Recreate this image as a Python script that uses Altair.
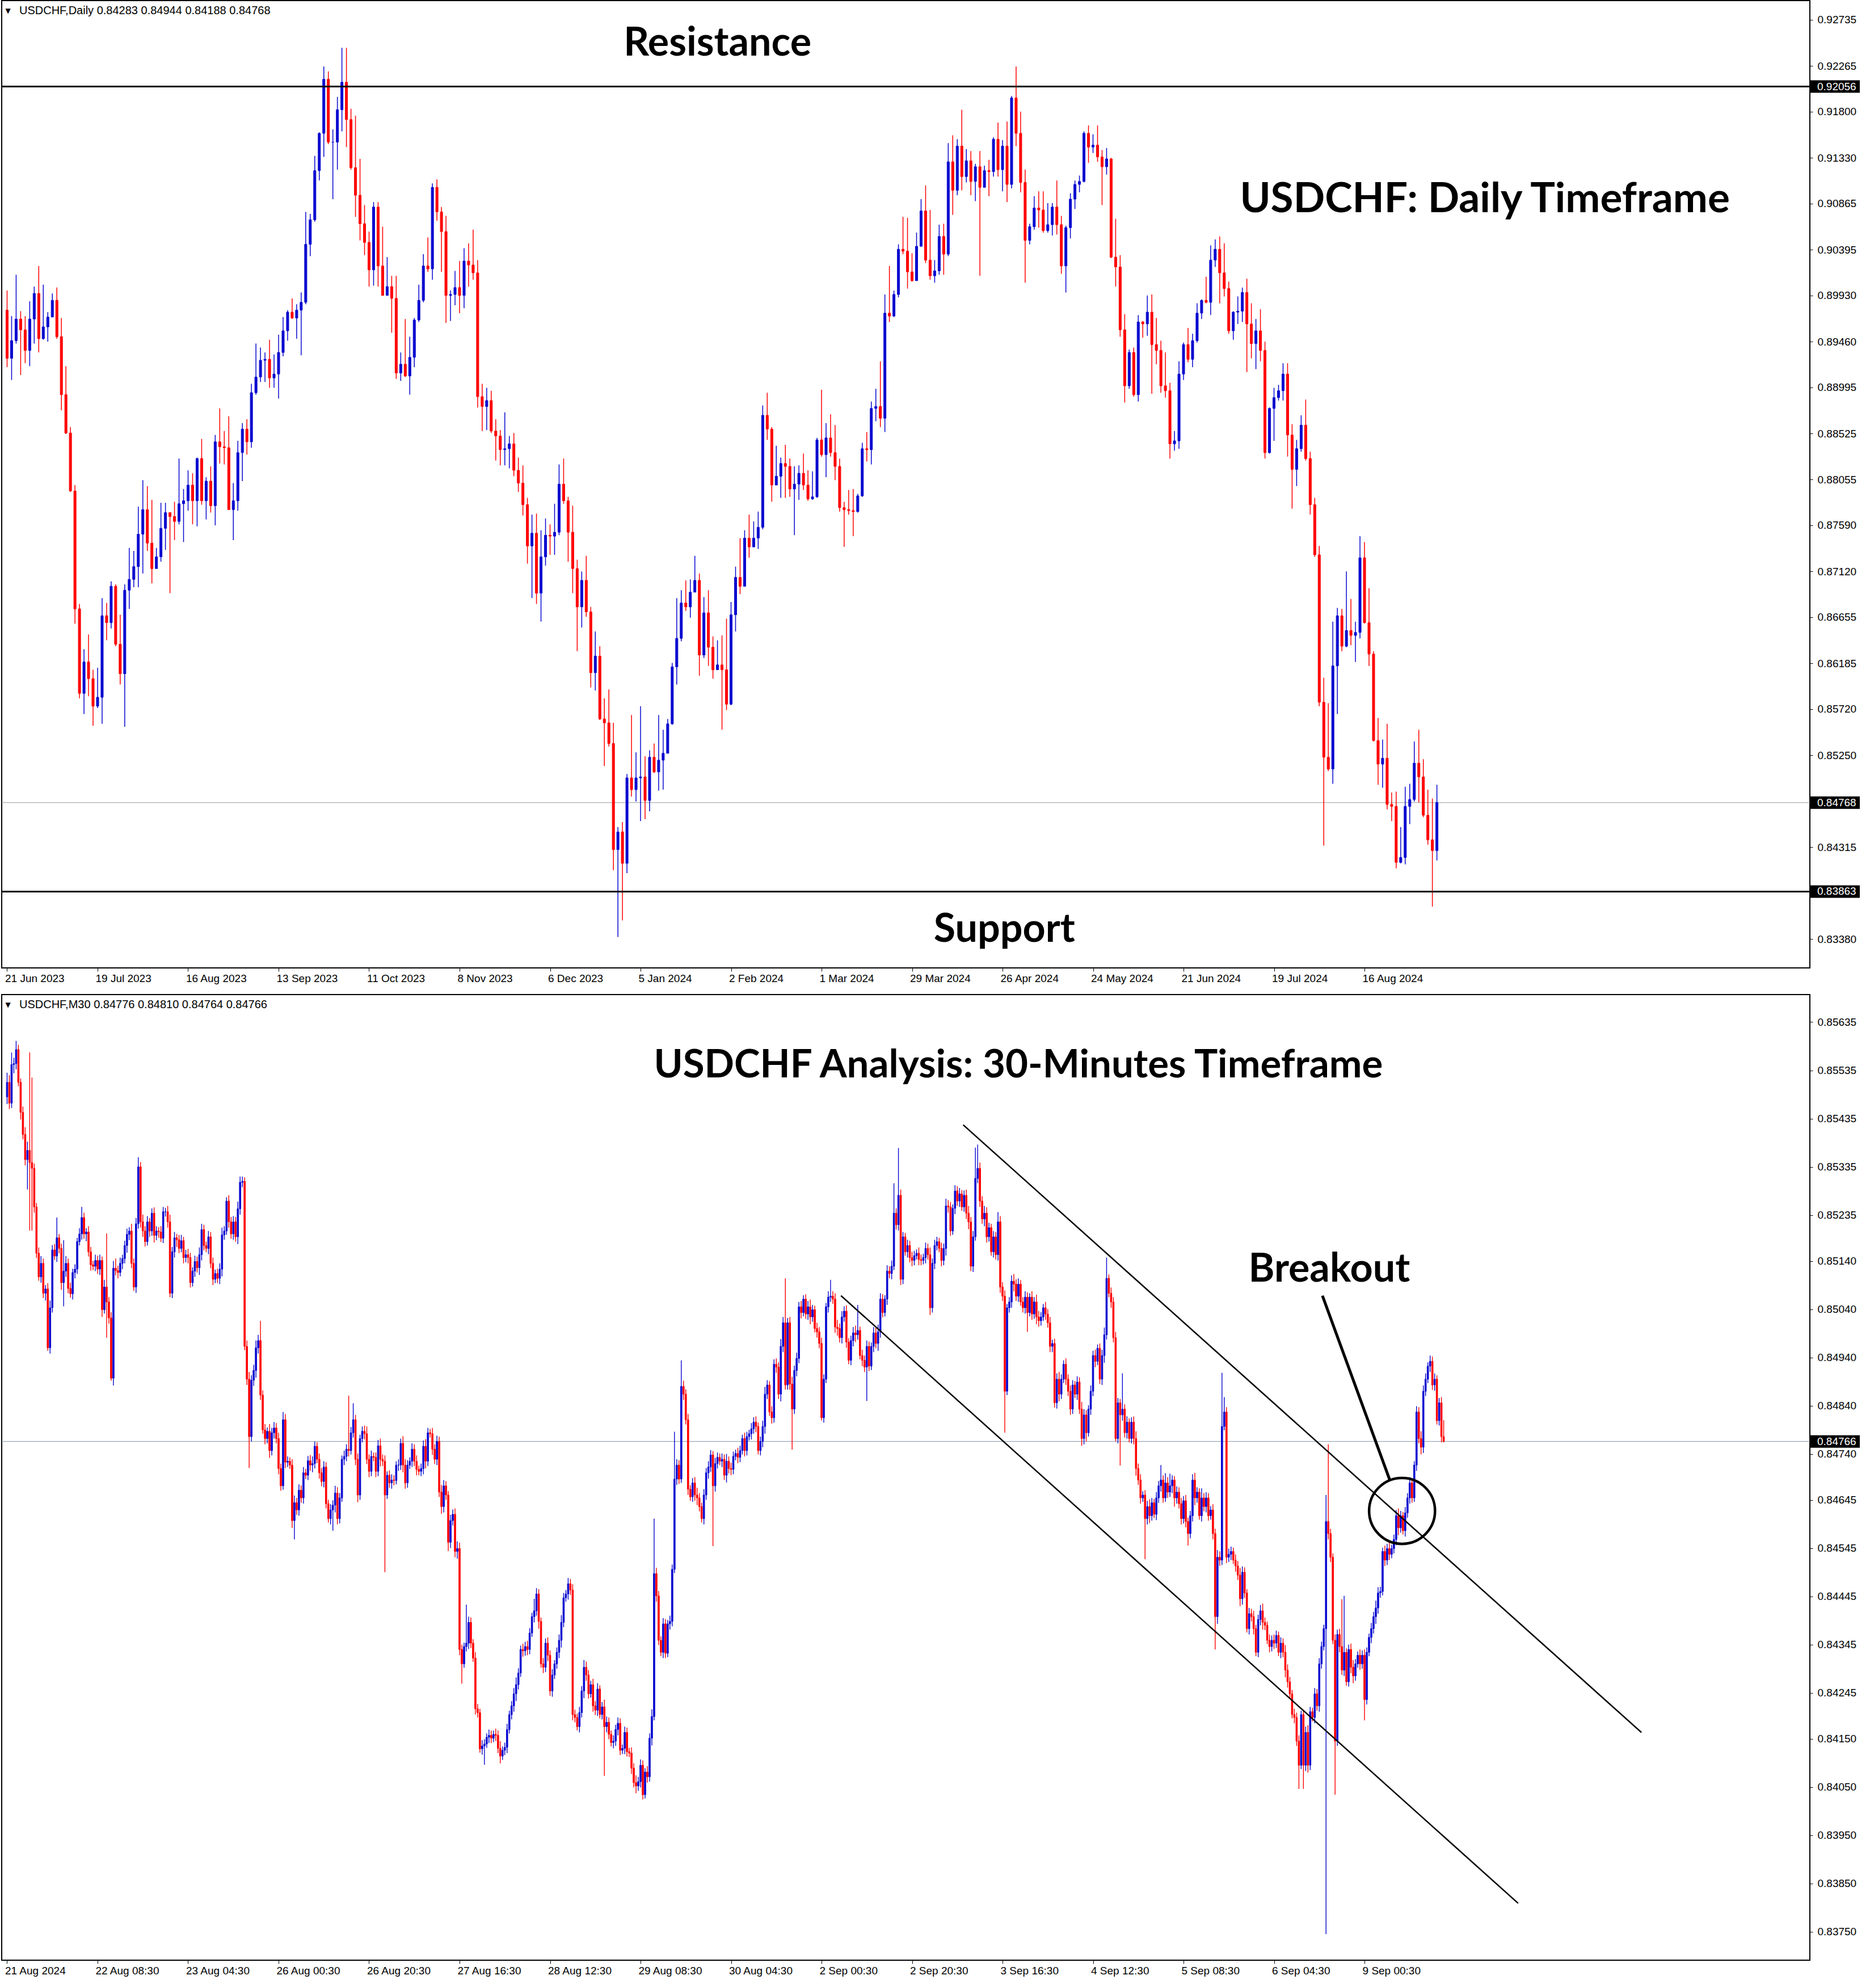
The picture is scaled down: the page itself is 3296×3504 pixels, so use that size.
import altair as alt
import pandas as pd

# ---------------- DATA ----------------
daily_labels = ["21 Jun 2023", "19 Jul 2023", "16 Aug 2023", "13 Sep 2023", "11 Oct 2023", "8 Nov 2023",
                "6 Dec 2023", "5 Jan 2024", "2 Feb 2024", "1 Mar 2024", "29 Mar 2024", "26 Apr 2024",
                "24 May 2024", "21 Jun 2024", "19 Jul 2024", "16 Aug 2024"]
daily_first_open = 8978  # price in 1e-4
daily_close = [
    8929, 8947, 8969, 8958, 8937, 8969, 8995, 8949, 8961, 8971,
    8988, 8951, 8892, 8853, 8794, 8674, 8588, 8620, 8603, 8575,
    8584, 8667, 8660, 8697, 8638, 8608, 8693, 8704, 8717, 8750,
    8775, 8741, 8715, 8727, 8756, 8772, 8768, 8763, 8781, 8784,
    8800, 8784, 8827, 8784, 8804, 8779, 8844, 8839, 8838, 8775,
    8784, 8833, 8857, 8844, 8894, 8910, 8927, 8928, 8909, 8913,
    8935, 8957, 8976, 8970, 8978, 8986, 9045, 9070, 9120, 9158,
    9213, 9149, 9149, 9182, 9210, 9172, 9123, 9095, 9066, 9047,
    9019, 9083, 9023, 8993, 9002, 8990, 8914, 8923, 8911, 8930,
    8968, 8988, 9023, 9020, 9103, 9078, 9058, 8993, 8994, 9001,
    8993, 9028, 9024, 9016, 8890, 8880, 8886, 8855, 8850, 8836,
    8837, 8842, 8815, 8802, 8780, 8738, 8751, 8690, 8727, 8749,
    8748, 8752, 8801, 8784, 8752, 8715, 8676, 8703, 8671, 8609,
    8626, 8562, 8558, 8537, 8429, 8447, 8415, 8502, 8490, 8502,
    8503, 8479, 8523, 8508, 8520, 8527, 8557, 8615, 8644, 8680,
    8676, 8691, 8703, 8627, 8670, 8635, 8612, 8617, 8612, 8577,
    8668, 8706, 8697, 8746, 8737, 8746, 8757, 8871, 8857, 8800,
    8809, 8822, 8819, 8796, 8801, 8812, 8800, 8786, 8788, 8846,
    8831, 8848, 8833, 8819, 8777, 8775, 8774, 8773, 8789, 8837,
    8836, 8878, 8880, 8868, 8975, 8972, 8994, 9040, 9038, 9017,
    9008, 9043, 9079, 9029, 9013, 9018, 9053, 9035, 9129, 9100,
    9145, 9114, 9130, 9109, 9124, 9103, 9120, 9119, 9152, 9121,
    9145, 9106, 9194, 9158, 9108, 9049, 9063, 9082, 9080, 9059,
    9065, 9083, 9065, 9023, 9062, 9091, 9106, 9109, 9158, 9144,
    9146, 9134, 9124, 9132, 9032, 9022, 8958, 8901, 8935, 8892,
    8966, 8964, 8976, 8943, 8937, 8901, 8896, 8842, 8845, 8913,
    8943, 8928, 8947, 8975, 8988, 8986, 9029, 9040, 9016, 9000,
    8957, 8976, 8977, 8996, 8964, 8944, 8957, 8937, 8833, 8878,
    8889, 8896, 8913, 8851, 8816, 8837, 8861, 8827, 8780, 8729,
    8579, 8523, 8511, 8616, 8667, 8636, 8652, 8647, 8650, 8726,
    8660, 8628, 8540, 8516, 8522, 8475, 8473, 8416, 8421, 8473,
    8480, 8517, 8503, 8464, 8439, 8428, 8477]
daily_upper_wick = [
    20, 25, 45, 8, 14, 18, 7, 28, 43, 5,
    7, 13, 19, 29, 6, 6, 5, 13, 28, 9,
    30, 18, 13, 5, 2, 30, 6, 32, 16, 28,
    30, 24, 44, 9, 26, 10, 0, 15, 46, 12,
    15, 12, 1, 20, 4, 15, 7, 34, 16, 32,
    18, 12, 6, 10, 9, 34, 13, 7, 20, 20,
    18, 14, 2, 14, 6, 10, 33, 6, 15, 1,
    13, 8, 13, 13, 35, 35, 11, 53, 37, 19,
    11, 5, 5, 40, 30, 11, 23, 12, 46, 21,
    2, 16, 12, 29, 4, 8, 5, 16, 4, 17,
    27, 13, 18, 36, 13, 13, 13, 10, 12, 6,
    37, 8, 11, 13, 18, 7, 19, 20, 27, 17,
    11, 29, 20, 26, 4, 27, 9, 9, 25, 5,
    25, 10, 21, 34, 21, 5, 10, 4, 64, 26,
    72, 21, 7, 14, 46, 24, 5, 4, 41, 13,
    23, 13, 25, 7, 16, 23, 11, 25, 30, 52,
    13, 11, 40, 8, 24, 17, 16, 10, 23, 2,
    31, 6, 19, 8, 18, 8, 20, 15, 26, 2,
    51, 15, 24, 28, 8, 6, 20, 22, 2, 6,
    17, 7, 18, 46, 19, 48, 4, 5, 33, 34,
    19, 14, 12, 26, 51, 11, 12, 13, 19, 27,
    7, 37, 12, 10, 3, 16, 5, 11, 2, 17,
    6, 25, 2, 32, 22, 13, 3, 12, 17, 19,
    22, 4, 27, 9, 2, 6, 4, 6, 2, 8,
    11, 20, 7, 11, 1, 39, 12, 16, 3, 5,
    7, 1, 17, 18, 27, 10, 34, 8, 10, 13,
    2, 17, 7, 10, 1, 24, 15, 10, 13, 30,
    7, 1, 15, 5, 14, 21, 12, 22, 9, 1,
    10, 6, 11, 11, 11, 9, 10, 26, 7, 7,
    9, 25, 55, 45, 8, 7, 60, 32, 11, 22,
    16, 35, 3, 23, 19, 35, 12, 15, 31, 20,
    16, 22, 34, 18, 26, 42, 18]
daily_lower_wick = [
    9, 22, 3, 46, 13, 16, 25, 14, 1, 15,
    0, 2, 16, 1, 1, 15, 5, 21, 18, 20,
    2, 27, 18, 6, 2, 11, 54, 19, 8, 21,
    40, 8, 15, 0, 5, 22, 78, 19, 3, 39,
    10, 24, 26, 4, 19, 7, 20, 17, 17, 0,
    31, 10, 29, 13, 6, 2, 5, 22, 10, 10,
    25, 4, 10, 1, 21, 46, 2, 12, 2, 10,
    24, 2, 58, 28, 22, 28, 2, 22, 17, 13,
    17, 16, 21, 0, 0, 35, 6, 8, 1, 19,
    10, 2, 2, 3, 11, 9, 41, 28, 26, 11,
    18, 13, 22, 7, 11, 25, 24, 2, 25, 16,
    16, 20, 6, 9, 11, 18, 53, 11, 29, 9,
    19, 19, 3, 3, 30, 25, 45, 21, 5, 15,
    18, 1, 44, 3, 21, 89, 58, 10, 7, 12,
    44, 19, 11, 1, 19, 30, 0, 1, 18, 3,
    4, 11, 0, 21, 3, 19, 9, 0, 61, 6,
    1, 17, 8, 0, 11, 0, 11, 2, 11, 17,
    0, 22, 32, 8, 47, 16, 5, 2, 1, 1,
    2, 23, 4, 14, 4, 38, 4, 25, 1, 1,
    12, 15, 13, 9, 14, 6, 1, 3, 3, 17,
    1, 0, 0, 3, 4, 7, 4, 21, 2, 25,
    5, 14, 6, 14, 20, 90, 0, 25, 5, 7,
    22, 18, 4, 13, 10, 43, 4, 3, 18, 2,
    2, 11, 10, 8, 27, 11, 10, 8, 1, 16,
    6, 5, 39, 8, 1, 20, 7, 17, 3, 2,
    7, 14, 12, 50, 14, 7, 7, 15, 7, 8,
    6, 3, 8, 2, 6, 1, 13, 7, 31, 8,
    3, 9, 12, 11, 49, 15, 26, 11, 6, 1,
    33, 3, 10, 22, 40, 17, 3, 2, 10, 2,
    4, 90, 2, 15, 49, 5, 1, 10, 27, 6,
    1, 12, 1, 21, 24, 5, 15, 6, 1, 7,
    18, 2, 26, 2, 5, 57, 10]
daily_ticks = [0.92735, 0.92265, 0.91800, 0.91330, 0.90865, 0.90395, 0.89930, 0.89460, 0.88995,
               0.88525, 0.88055, 0.87590, 0.87120, 0.86655, 0.86185, 0.85720, 0.85250, 0.84315, 0.83380]
daily_levels = [0.92056, 0.83863]
daily_last = 0.84768

m30_labels = ["21 Aug 2024", "22 Aug 08:30", "23 Aug 04:30", "26 Aug 00:30", "26 Aug 20:30", "27 Aug 16:30",
              "28 Aug 12:30", "29 Aug 08:30", "30 Aug 04:30", "2 Sep 00:30", "2 Sep 20:30", "3 Sep 16:30",
              "4 Sep 12:30", "5 Sep 08:30", "6 Sep 04:30", "9 Sep 00:30"]
m30_first_open = 85480  # price in 1e-5
m30_close = [
    85510, 85467, 85547, 85549, 85578, 85510, 85448, 85402, 85350, 85369,
    85344, 85332, 85252, 85156, 85107, 85135, 85073, 85082, 84960, 85043,
    85163, 85150, 85188, 85166, 85095, 85119, 85135, 85083, 85072, 85116,
    85123, 85180, 85196, 85230, 85196, 85200, 85159, 85132, 85129, 85141,
    85123, 85141, 85039, 85086, 85055, 85022, 84897, 85125, 85120, 85116,
    85135, 85145, 85172, 85195, 85202, 85135, 85086, 85217, 85335, 85221,
    85202, 85180, 85221, 85202, 85239, 85193, 85202, 85200, 85187, 85242,
    85242, 85221, 85073, 85159, 85188, 85184, 85166, 85182, 85147, 85153,
    85147, 85095, 85119, 85139, 85126, 85153, 85205, 85172, 85166, 85190,
    85135, 85102, 85114, 85104, 85123, 85194, 85202, 85264, 85221, 85196,
    85221, 85190, 85248, 85303, 85305, 84963, 84895, 84776, 84893, 84913,
    84960, 84975, 84862, 84790, 84772, 84787, 84747, 84784, 84794, 84772,
    84710, 84674, 84811, 84723, 84725, 84717, 84602, 84639, 84624, 84665,
    84649, 84701, 84696, 84726, 84717, 84720, 84756, 84729, 84701, 84683,
    84713, 84637, 84606, 84624, 84634, 84659, 84606, 84649, 84729, 84735,
    84750, 84747, 84784, 84811, 84729, 84655, 84772, 84787, 84782, 84729,
    84704, 84735, 84733, 84704, 84757, 84729, 84725, 84655, 84696, 84680,
    84686, 84685, 84717, 84717, 84762, 84717, 84680, 84717, 84725, 84750,
    84725, 84708, 84704, 84710, 84756, 84725, 84784, 84782, 84750, 84729,
    84766, 84661, 84631, 84674, 84655, 84557, 84602, 84615, 84538, 84544,
    84335, 84305, 84341, 84348, 84391, 84348, 84317, 84212, 84204, 84129,
    84135, 84139, 84153, 84157, 84151, 84159, 84157, 84130, 84114, 84126,
    84132, 84169, 84200, 84218, 84243, 84262, 84286, 84335, 84332, 84341,
    84335, 84369, 84403, 84415, 84450, 84393, 84305, 84298, 84348, 84323,
    84249, 84282, 84305, 84329, 84354, 84391, 84442, 84450, 84471, 84458,
    84200, 84194, 84175, 84204, 84249, 84298, 84282, 84243, 84262, 84218,
    84209, 84253, 84200, 84216, 84175, 84184, 84159, 84142, 84145, 84169,
    84182, 84126, 84130, 84163, 84123, 84120, 84089, 84059, 84052, 84061,
    84095, 84034, 84081, 84071, 84151, 84196, 84492, 84446, 84354, 84329,
    84388, 84327, 84388, 84393, 84501, 84688, 84717, 84688, 84880, 84864,
    84811, 84667, 84651, 84680, 84655, 84649, 84631, 84606, 84655, 84701,
    84713, 84738, 84674, 84720, 84733, 84725, 84729, 84696, 84725, 84710,
    84708, 84735, 84741, 84733, 84747, 84772, 84747, 84776, 84782, 84792,
    84806, 84797, 84747, 84766, 84797, 84864, 84883, 84827, 84815, 84926,
    84920, 84864, 84963, 85012, 84883, 85012, 84885, 84833, 84913, 84938,
    85045, 85033, 85061, 85030, 85045, 85024, 85039, 85000, 84993, 84969,
    84815, 84895, 85045, 85065, 85067, 85061, 85003, 85000, 84981, 85024,
    85036, 84972, 84934, 84975, 84991, 84987, 84996, 84944, 84934, 84920,
    84963, 84922, 84963, 84991, 84969, 84993, 85061, 85033, 85061, 85119,
    85114, 85129, 85239, 85215, 85276, 85102, 85190, 85159, 85172, 85147,
    85141, 85151, 85156, 85143, 85141, 85147, 85166, 85153, 85043, 85135,
    85172, 85180, 85166, 85141, 85166, 85254, 85252, 85202, 85249, 85285,
    85264, 85279, 85252, 85276, 85239, 85221, 85129, 85190, 85311, 85332,
    85264, 85227, 85239, 85190, 85209, 85159, 85190, 85153, 85221, 85086,
    85067, 84870, 85043, 85055, 85098, 85092, 85067, 85092, 85055, 85043,
    85065, 85033, 85065, 85030, 85055, 85024, 85016, 85024, 85043, 85030,
    85012, 84963, 84969, 84846, 84895, 84864, 84895, 84926, 84895, 84870,
    84833, 84883, 84864, 84889, 84833, 84772, 84821, 84784, 84833, 84870,
    84944, 84932, 84959, 84895, 84944, 84987, 85104, 85073, 85055, 84981,
    84772, 84846, 84821, 84833, 84784, 84806, 84772, 84806, 84772, 84710,
    84686, 84649, 84655, 84606, 84631, 84612, 84639, 84615, 84649, 84674,
    84686, 84649, 84680, 84661, 84674, 84686, 84649, 84661, 84637, 84606,
    84643, 84600, 84575, 84612, 84686, 84649, 84661, 84612, 84649, 84631,
    84649, 84612, 84624, 84575, 84403, 84526, 84520, 84797, 84827, 84526,
    84532, 84538, 84520, 84508, 84489, 84440, 84495, 84452, 84378, 84409,
    84403, 84378, 84329, 84397, 84415, 84391, 84385, 84354, 84341, 84354,
    84348, 84364, 84329, 84348, 84329, 84292, 84268, 84243, 84200, 84194,
    84145, 84095, 84200, 84095, 84163, 84095, 84206, 84194, 84243, 84218,
    84305, 84341, 84378, 84600, 84575, 84526, 84354, 84145, 84366, 84341,
    84292, 84329, 84268, 84335, 84298, 84280, 84305, 84323, 84305, 84323,
    84231, 84329, 84360, 84378, 84403, 84421, 84452, 84455, 84538, 84520,
    84544, 84532, 84544, 84563, 84612, 84587, 84612, 84581, 84618, 84649,
    84680, 84649, 84717, 84827, 84772, 84754, 84870, 84895, 84922, 84932,
    84883, 84895, 84809, 84846, 84776, 84766]
m30_upper_wick = [
    20, 15, 25, 12, 18, 10, 8, 12, 15, 18,
    203, 176, 10, 8, 12, 15, 10, 8, 12, 15,
    10, 12, 42, 8, 10, 64, 15, 10, 12, 8,
    10, 8, 12, 22, 10, 8, 12, 10, 8, 12,
    10, 12, 8, 15, 111, 10, 12, 15, 20, 10,
    12, 8, 10, 12, 8, 15, 10, 12, 20, 10,
    15, 10, 12, 8, 10, 12, 10, 8, 12, 10,
    8, 12, 15, 10, 12, 8, 10, 12, 8, 10,
    12, 10, 8, 12, 10, 15, 12, 10, 8, 12,
    10, 12, 8, 10, 12, 15, 10, 8, 12, 10,
    12, 10, 15, 12, 10, 8, 12, 15, 10, 12,
    15, 12, 41, 10, 12, 8, 15, 10, 12, 10,
    12, 10, 16, 12, 10, 8, 12, 15, 10, 12,
    10, 12, 8, 10, 12, 15, 10, 8, 12, 10,
    12, 10, 8, 12, 10, 15, 12, 10, 8, 12,
    10, 111, 12, 34, 10, 12, 8, 10, 12, 15,
    10, 12, 8, 10, 12, 15, 10, 12, 8, 10,
    12, 10, 8, 12, 10, 15, 12, 10, 8, 12,
    10, 12, 8, 10, 12, 15, 10, 8, 12, 10,
    12, 10, 15, 12, 10, 8, 12, 10, 12, 15,
    12, 10, 8, 80, 12, 10, 8, 12, 10, 8,
    12, 10, 8, 12, 10, 8, 12, 10, 15, 8,
    10, 12, 8, 10, 12, 15, 10, 8, 12, 10,
    12, 10, 8, 25, 12, 10, 8, 12, 10, 12,
    10, 12, 8, 10, 12, 15, 10, 8, 12, 10,
    12, 10, 8, 12, 10, 15, 12, 10, 8, 12,
    10, 12, 8, 10, 15, 12, 10, 8, 12, 10,
    12, 10, 8, 12, 10, 8, 12, 10, 15, 10,
    12, 10, 8, 12, 10, 15, 114, 12, 10, 8,
    12, 10, 8, 12, 10, 98, 12, 10, 54, 12,
    10, 12, 8, 10, 12, 15, 10, 8, 12, 10,
    12, 10, 8, 12, 10, 8, 12, 10, 15, 10,
    12, 10, 8, 12, 10, 8, 12, 10, 8, 12,
    10, 12, 8, 10, 12, 15, 10, 8, 12, 10,
    12, 10, 15, 12, 92, 10, 12, 15, 10, 12,
    10, 12, 8, 10, 12, 15, 10, 8, 12, 10,
    12, 10, 8, 12, 34, 10, 12, 15, 10, 12,
    10, 12, 8, 10, 12, 15, 53, 8, 12, 10,
    12, 10, 8, 12, 10, 15, 12, 10, 8, 12,
    10, 12, 62, 10, 98, 12, 10, 8, 12, 10,
    12, 10, 8, 12, 10, 8, 12, 10, 15, 10,
    12, 10, 8, 12, 10, 15, 12, 10, 8, 12,
    10, 12, 8, 10, 12, 15, 10, 12, 64, 49,
    12, 10, 15, 12, 10, 8, 12, 10, 20, 12,
    10, 12, 8, 10, 12, 15, 10, 12, 8, 10,
    12, 10, 8, 12, 10, 15, 12, 10, 8, 12,
    10, 12, 8, 10, 12, 15, 10, 8, 12, 10,
    12, 10, 8, 12, 10, 15, 12, 10, 8, 12,
    10, 12, 8, 10, 12, 15, 43, 8, 12, 10,
    12, 10, 8, 74, 10, 12, 8, 10, 12, 15,
    10, 12, 8, 10, 12, 15, 10, 8, 12, 10,
    31, 10, 20, 12, 25, 10, 8, 12, 10, 12,
    10, 12, 8, 10, 12, 15, 10, 8, 20, 10,
    12, 10, 8, 12, 10, 15, 12, 111, 31, 10,
    12, 10, 8, 12, 10, 15, 12, 10, 8, 12,
    10, 12, 8, 10, 12, 15, 10, 8, 12, 10,
    12, 10, 8, 12, 10, 15, 12, 10, 8, 12,
    10, 12, 8, 10, 12, 15, 10, 8, 12, 10,
    12, 10, 8, 55, 160, 10, 8, 12, 10, 12,
    98, 117, 8, 10, 12, 15, 10, 8, 12, 10,
    12, 10, 8, 12, 10, 15, 12, 10, 8, 12,
    10, 12, 8, 10, 12, 15, 10, 8, 12, 10,
    12, 10, 8, 12, 10, 15, 12, 12, 8, 12,
    10, 12, 8, 10, 12, 34]
m30_lower_wick = [
    15, 12, 10, 18, 12, 8, 15, 10, 12, 62,
    141, 129, 12, 10, 8, 12, 10, 15, 6, 12,
    10, 8, 12, 10, 15, 49, 12, 10, 8, 12,
    12, 10, 8, 12, 10, 15, 10, 12, 8, 10,
    10, 12, 15, 8, 74, 12, 5, 15, 10, 12,
    8, 12, 10, 15, 12, 10, 8, 12, 10, 12,
    12, 10, 8, 12, 10, 15, 10, 12, 8, 10,
    10, 12, 8, 10, 12, 15, 10, 8, 12, 10,
    12, 10, 8, 12, 10, 15, 12, 10, 8, 12,
    10, 12, 8, 10, 12, 15, 10, 8, 12, 10,
    12, 10, 15, 12, 10, 8, 12, 65, 10, 12,
    15, 12, 10, 8, 12, 10, 15, 10, 12, 10,
    12, 10, 8, 12, 10, 8, 15, 39, 10, 12,
    10, 12, 8, 10, 12, 15, 10, 8, 12, 10,
    12, 10, 8, 12, 43, 15, 12, 10, 8, 12,
    10, 12, 8, 10, 12, 15, 10, 8, 12, 10,
    12, 10, 8, 12, 10, 15, 10, 160, 8, 10,
    12, 10, 8, 12, 10, 15, 12, 10, 8, 12,
    10, 12, 8, 10, 12, 15, 10, 8, 12, 10,
    12, 10, 15, 12, 10, 18, 12, 10, 12, 15,
    12, 41, 8, 10, 12, 10, 8, 12, 10, 8,
    12, 39, 8, 12, 10, 8, 12, 10, 15, 8,
    10, 12, 8, 10, 12, 15, 10, 8, 12, 10,
    12, 10, 8, 12, 10, 15, 8, 12, 10, 12,
    10, 12, 8, 10, 12, 15, 10, 8, 12, 10,
    12, 10, 8, 12, 10, 15, 12, 10, 8, 12,
    10, 12, 8, 10, 102, 12, 10, 8, 12, 10,
    12, 10, 8, 12, 10, 8, 12, 10, 15, 10,
    12, 10, 8, 12, 10, 15, 8, 12, 10, 8,
    12, 10, 8, 12, 10, 8, 12, 10, 8, 12,
    10, 12, 8, 10, 12, 15, 10, 8, 12, 10,
    12, 10, 125, 12, 10, 8, 12, 10, 15, 10,
    12, 10, 8, 12, 10, 8, 12, 10, 8, 12,
    10, 12, 8, 10, 12, 15, 10, 8, 12, 10,
    12, 10, 15, 12, 10, 10, 12, 84, 10, 12,
    10, 12, 8, 10, 12, 15, 10, 8, 12, 10,
    6, 10, 8, 12, 10, 10, 12, 15, 10, 12,
    10, 12, 8, 10, 12, 15, 10, 8, 12, 10,
    70, 10, 8, 12, 10, 15, 12, 10, 8, 12,
    10, 12, 8, 10, 12, 12, 10, 8, 12, 10,
    12, 10, 8, 12, 10, 8, 12, 10, 15, 10,
    12, 10, 8, 12, 10, 15, 12, 10, 8, 12,
    10, 12, 8, 10, 12, 15, 10, 12, 8, 10,
    12, 10, 15, 12, 10, 8, 12, 10, 12, 12,
    10, 86, 8, 10, 12, 15, 10, 12, 8, 10,
    12, 40, 8, 12, 10, 15, 12, 10, 8, 12,
    10, 12, 12, 10, 12, 15, 10, 8, 12, 10,
    12, 10, 8, 12, 10, 15, 12, 18, 8, 12,
    10, 12, 8, 10, 12, 15, 10, 8, 12, 10,
    6, 10, 105, 12, 10, 12, 8, 10, 12, 15,
    10, 12, 8, 84, 12, 15, 10, 8, 12, 10,
    12, 10, 8, 12, 10, 15, 18, 12, 10, 12,
    10, 12, 25, 10, 12, 15, 10, 8, 12, 10,
    12, 10, 8, 12, 68, 15, 12, 10, 8, 12,
    10, 12, 8, 12, 10, 15, 12, 10, 8, 12,
    10, 12, 8, 10, 12, 15, 10, 8, 12, 10,
    12, 10, 8, 12, 10, 15, 12, 10, 8, 12,
    10, 49, 8, 49, 12, 15, 10, 8, 12, 10,
    12, 10, 8, 633, 12, 10, 8, 111, 10, 12,
    10, 12, 8, 10, 12, 15, 10, 8, 12, 10,
    43, 10, 8, 12, 10, 15, 12, 10, 8, 12,
    10, 12, 8, 10, 12, 15, 10, 8, 12, 10,
    12, 10, 8, 12, 10, 15, 12, 10, 8, 12,
    10, 12, 8, 10, 12, 2]
m30_ticks = [0.85635, 0.85535, 0.85435, 0.85335, 0.85235, 0.85140, 0.85040, 0.84940, 0.84840, 0.84740,
             0.84645, 0.84545, 0.84445, 0.84345, 0.84245, 0.84150, 0.84050, 0.83950, 0.83850, 0.83750]
m30_last = 0.84766

# annotation geometry (bar index, price)
upper_channel = [(422.6, 0.85422), (722.4, 0.84163)]
lower_channel = [(368.6, 0.85068), (667.9, 0.83809)]
breakout_pointer = [(581.4, 0.85068), (611.1, 0.84687)]
breakout_circle = (616.6, 0.84622)

# ---------------- BUILD ----------------
BLUE = "#0808D0"
RED = "#FF0000"
AXFONT = "Liberation Sans"
TFONT = "Lato"
cscale = alt.Scale(domain=["up", "down"], range=[BLUE, RED])


def build(first_open, closes, ups, downs, unit):
    opens = [first_open] + closes[:-1]
    rows = []
    for i, (o, c, u, d) in enumerate(zip(opens, closes, ups, downs)):
        rows.append(dict(idx=i, open=o / unit, close=c / unit,
                         high=(max(o, c) + u) / unit, low=(min(o, c) - d) / unit,
                         dir="up" if c >= o else "down"))
    return pd.DataFrame(rows)


def panel(df, xdom, ydom, xlabels, xstep, yticks, w, h, body_w, wick_w, header, levels, last,
          last_color, texts, boxes, extra_layers_fn=None):
    js = "[" + ",".join("'%s'" % s for s in xlabels) + "]"
    xaxis = alt.Axis(values=[i * xstep for i in range(len(xlabels))],
                     labelExpr=f"{js}[round(datum.value/{xstep})]",
                     labelAlign="left", labelBaseline="top", labelPadding=3, tickSize=6,
                     tickColor="black", domain=False, grid=False, labelFont=AXFONT,
                     labelFontSize=19, labelColor="black", labelFlush=False, labelOverlap=False,
                     labelOffset=-4, title=None)
    yaxis = alt.Axis(orient="right", values=yticks, format=".5f", labelAlign="left",
                     labelBaseline="middle", labelPadding=8, tickSize=5, tickColor="black",
                     domain=False, grid=False, labelFont=AXFONT, labelFontSize=19,
                     labelColor="black", labelFlush=False, labelOverlap=False, title=None)
    xs = alt.Scale(domain=xdom, nice=False, zero=False)
    ys = alt.Scale(domain=ydom, nice=False, zero=False)

    def X(f):
        return alt.X(f, type="quantitative", scale=xs, axis=xaxis)

    def Y(f):
        return alt.Y(f, type="quantitative", scale=ys, axis=yaxis)

    wicks = alt.Chart(df).mark_rule(strokeWidth=wick_w).encode(
        x=X("idx"), y=Y("low"), y2="high",
        color=alt.Color("dir:N", scale=cscale, legend=None))
    bodies = alt.Chart(df).mark_bar(width=body_w, strokeWidth=1, opacity=1).encode(
        x=X("idx"), y=Y("open"), y2="close",
        color=alt.Color("dir:N", scale=cscale, legend=None),
        stroke=alt.Stroke("dir:N", scale=cscale, legend=None))
    layers = [wicks, bodies]

    lastline = alt.Chart(pd.DataFrame({"price": [last]})).mark_rule(
        color=last_color, strokeWidth=1).encode(y=Y("price"))
    layers.insert(0, lastline)

    if levels:
        lv = alt.Chart(pd.DataFrame({"price": levels})).mark_rule(
            color="black", strokeWidth=3).encode(y=Y("price"))
        layers.append(lv)

    if extra_layers_fn is not None:
        layers += extra_layers_fn(X, Y)

    for (ix, pr, lab, fs) in texts:
        tdf = pd.DataFrame([dict(idx=ix, price=pr, label=lab)])
        layers.append(alt.Chart(tdf).mark_text(font=TFONT, fontWeight="bold", fontSize=fs,
                                               color="black", align="center", baseline="middle").encode(
            x=X("idx"), y=Y("price"), text="label:N"))

    hdf = pd.DataFrame({"t": [header]})
    layers.append(alt.Chart(hdf).mark_text(font=AXFONT, fontSize=20, color="black",
                                           align="left", baseline="middle").encode(
        x=alt.value(31), y=alt.value(18), text="t:N"))
    layers.append(alt.Chart(pd.DataFrame({"t": ["\u25BC"]})).mark_text(
        font="DejaVu Sans", fontSize=12, color="black", align="center", baseline="middle").encode(
        x=alt.value(11), y=alt.value(18), text="t:N"))

    bdf = pd.DataFrame({"price": boxes, "label": ["%.5f" % b for b in boxes]})
    layers.append(alt.Chart(bdf).mark_tick(orient="horizontal", size=88, thickness=22,
                                           color="black", opacity=1).encode(
        y=Y("price"), x=alt.value(3231)))
    layers.append(alt.Chart(bdf).mark_text(font=AXFONT, fontSize=19, color="white",
                                           align="left", baseline="middle").encode(
        y=Y("price"), x=alt.value(3200), text="label:N"))

    return alt.layer(*layers).properties(width=w, height=h)


daily_df = build(daily_first_open, daily_close, daily_upper_wick, daily_lower_wick, 10000.0)
m30_df = build(m30_first_open, m30_close, m30_upper_wick, m30_lower_wick, 100000.0)

top = panel(
    daily_df, [-0.5625, 397.8], [0.83086, 0.92931], daily_labels, 20, daily_ticks, 3187, 1705, 4, 1.5,
    "USDCHF,Daily  0.84283 0.84944 0.84188 0.84768", daily_levels, daily_last, "#9a9a9a",
    [(157, 0.92493, "Resistance", 70), (326.6, 0.90904, "USDCHF: Daily Timeframe", 73),
     (220.4, 0.83472, "Support", 70)],
    [daily_levels[0], daily_last, daily_levels[1]])


def m30_extras(X, Y):
    segs = pd.DataFrame([
        dict(x1=upper_channel[0][0], y1=upper_channel[0][1], x2=upper_channel[1][0], y2=upper_channel[1][1]),
        dict(x1=lower_channel[0][0], y1=lower_channel[0][1], x2=lower_channel[1][0], y2=lower_channel[1][1]),
    ])
    pointer = pd.DataFrame([dict(x1=breakout_pointer[0][0], y1=breakout_pointer[0][1],
                                 x2=breakout_pointer[1][0], y2=breakout_pointer[1][1])])
    circ = pd.DataFrame([dict(idx=breakout_circle[0], price=breakout_circle[1])])
    return [
        alt.Chart(segs).mark_rule(color="black", strokeWidth=2.5).encode(
            x=X("x1"), x2="x2", y=Y("y1"), y2="y2"),
        alt.Chart(pointer).mark_rule(color="black", strokeWidth=5).encode(
            x=X("x1"), x2="x2", y=Y("y1"), y2="y2"),
        alt.Chart(circ).mark_point(shape="circle", filled=False, color="black", strokeWidth=4.5,
                                   size=13500, opacity=1).encode(x=X("idx"), y=Y("price")),
    ]


bottom = panel(
    m30_df, [-1.125, 795.6], [0.83691, 0.85692], m30_labels, 40, m30_ticks, 3187, 1702, 2.6, 1.4,
    "USDCHF,M30  0.84776 0.84810 0.84764 0.84766", [], m30_last, "#8193a8",
    [(447, 0.85545, "USDCHF Analysis: 30-Minutes Timeframe", 69), (584.4, 0.85122, "Breakout", 70)],
    [m30_last], m30_extras)

chart = alt.vconcat(top, bottom, spacing=17).properties(
    padding={"left": 0, "top": 0, "right": 0, "bottom": 0}, background="white"
).configure_view(stroke="black", strokeWidth=2)

chart.save("out.html", embed_options={"renderer": "svg", "actions": False})
